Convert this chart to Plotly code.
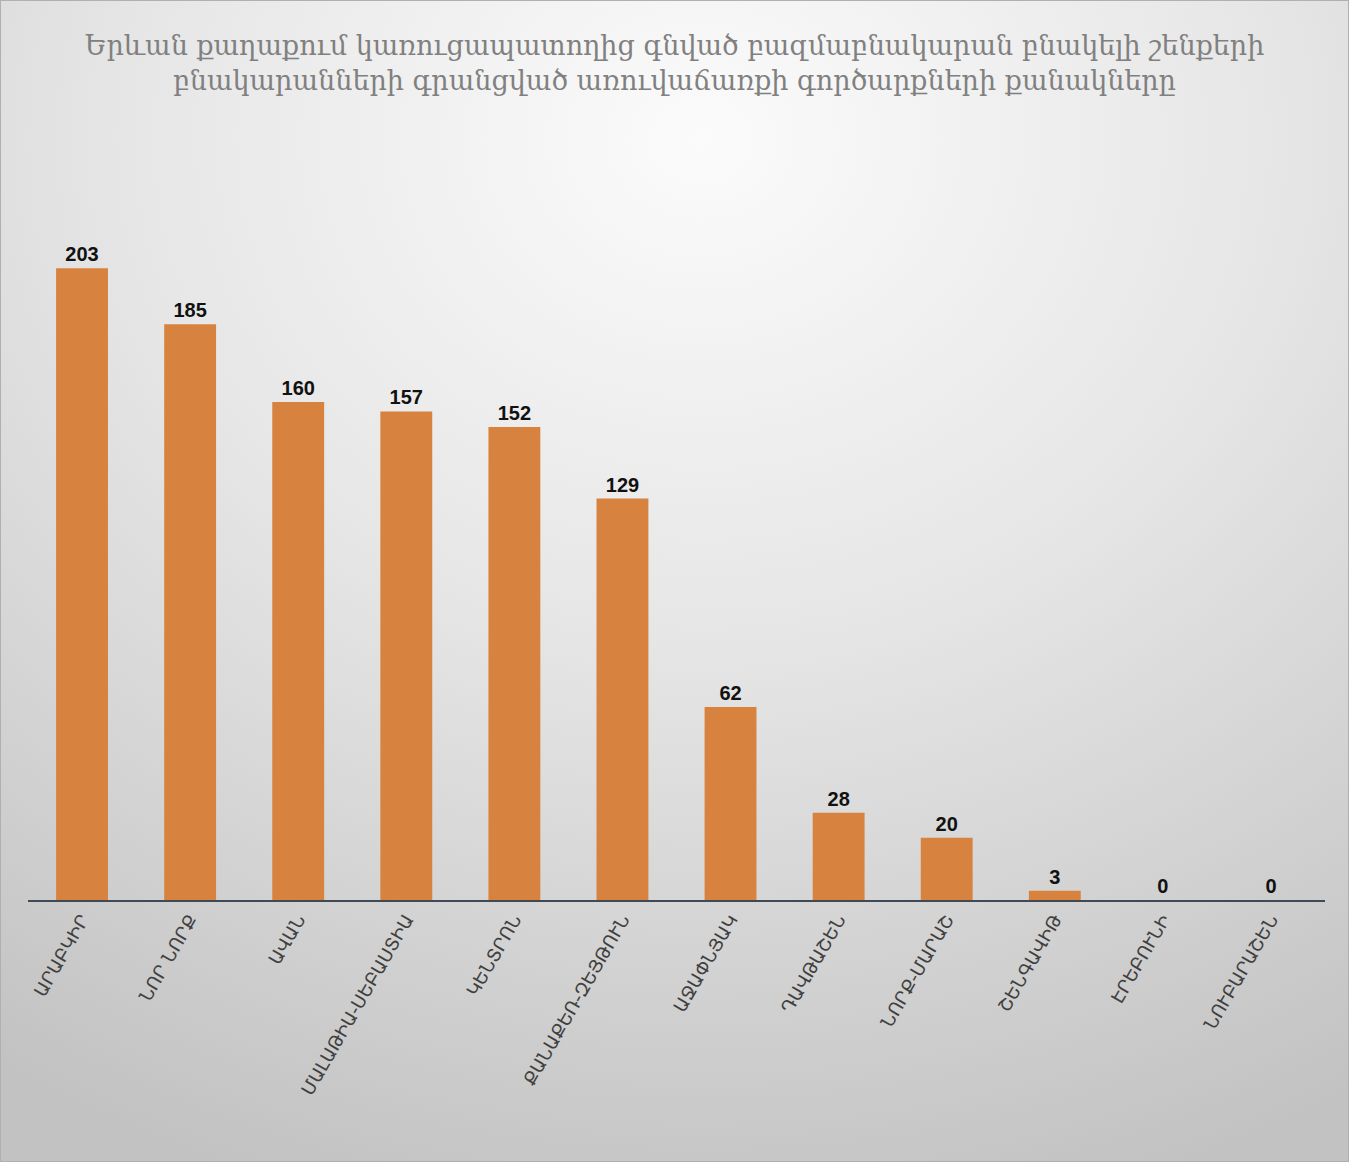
import base64
import plotly.graph_objects as go

# Districts of Yerevan and number of registered sales transactions
districts = [
    "ԱՐԱԲԿԻՐ", "ՆՈՐ ՆՈՐՔ", "ԱՎԱՆ", "ՄԱԼԱԹԻԱ-ՍԵԲԱՍՏԻԱ", "ԿԵՆՏՐՈՆ",
    "ՔԱՆԱՔԵՌ-ԶԵՅԹՈՒՆ", "ԱՋԱՓՆՅԱԿ", "ԴԱՎԹԱՇԵՆ", "ՆՈՐՔ-ՄԱՐԱՇ",
    "ՇԵՆԳԱՎԻԹ", "ԷՐԵԲՈՒՆԻ", "ՆՈՒԲԱՐԱՇԵՆ",
]
transactions = [203, 185, 160, 157, 152, 129, 62, 28, 20, 3, 0, 0]

title_text = (
    "Երևան քաղաքում կառուցապատողից գնված բազմաբնակարան բնակելի շենքերի<br>"
    "բնակարանների գրանցված առուվաճառքի գործարքների քանակները"
)

W, H = 1349, 1162
ML, MR, MT, MB = 28, 24, 122, 262
PW, PH = W - ML - MR, H - MT - MB

# Soft radial gray background as an inline SVG
svg = f"""<svg xmlns='http://www.w3.org/2000/svg' width='{W}' height='{H}' preserveAspectRatio='none'>
<defs><radialGradient id='g' cx='52%' cy='12%' r='95%' fx='52%' fy='12%'>
<stop offset='0%' stop-color='#fbfbfb'/>
<stop offset='45%' stop-color='#e6e6e6'/>
<stop offset='100%' stop-color='#c2c2c2'/>
</radialGradient></defs>
<rect width='{W}' height='{H}' fill='url(#g)' stroke='#b0b0b0' stroke-width='2'/>
</svg>"""
bg_src = "data:image/svg+xml;base64," + base64.b64encode(svg.encode()).decode()

fig = go.Figure(
    go.Bar(
        x=districts,
        y=transactions,
        marker=dict(color="#D8823F", line=dict(width=0)),
        text=[str(v) for v in transactions],
        textposition="outside",
        textfont=dict(family="Liberation Sans, Arial", size=20, color="#111111"),
        texttemplate="<b>%{text}</b>",
        cliponaxis=False,
        width=0.48,
    )
)

fig.update_layout(
    width=W,
    height=H,
    margin=dict(l=ML, r=MR, t=MT, b=MB),
    paper_bgcolor="#dcdcdc",
    plot_bgcolor="rgba(0,0,0,0)",
    showlegend=False,
    title=dict(
        text=title_text,
        x=0.5,
        xanchor="center",
        y=1 - 55 / H,
        yanchor="top",
        font=dict(family="DejaVu Serif", size=27, color="#808080"),
    ),
    images=[
        dict(
            source=bg_src,
            xref="paper",
            yref="paper",
            x=-ML / PW,
            y=1 + MT / PH,
            sizex=W / PW,
            sizey=H / PH,
            xanchor="left",
            yanchor="top",
            sizing="stretch",
            layer="below",
        )
    ],
    xaxis=dict(
        tickangle=-60,
        tickfont=dict(family="DejaVu Sans", size=18, color="#404040"),
        showline=True,
        linecolor="#3f4a55",
        linewidth=2,
        ticks="",
        showgrid=False,
        range=[-0.5, 11.5],
    ),
    yaxis=dict(
        range=[0, 250],
        visible=False,
        showgrid=False,
        zeroline=False,
    ),
)

fig.write_html("out.html")
